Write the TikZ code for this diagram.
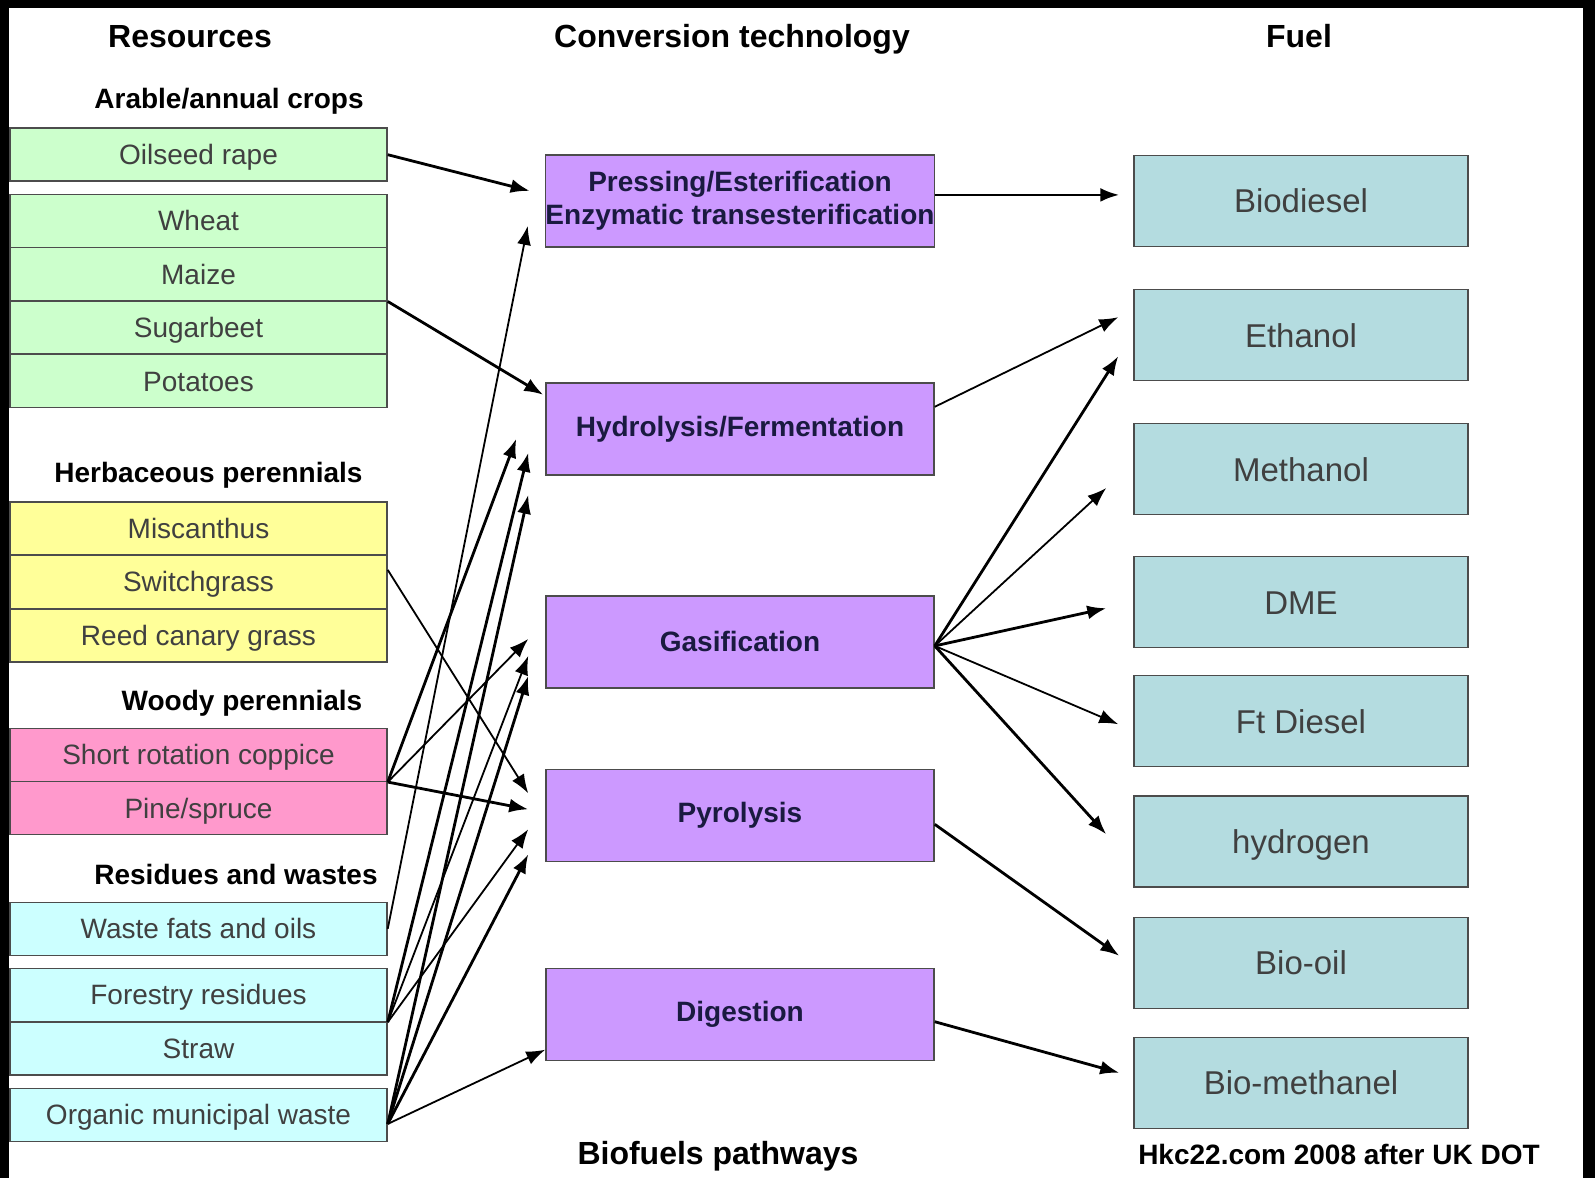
\documentclass[tikz,border=0pt]{standalone}
\usepackage{fontspec}
\setmainfont{Liberation Sans}
\usepackage{tikz}
\usetikzlibrary{arrows.meta,positioning}

\definecolor{cropgreen}{HTML}{CCFFCC}
\definecolor{grassyellow}{HTML}{FFFF99}
\definecolor{woodpink}{HTML}{FF99CC}
\definecolor{wastecyan}{HTML}{CCFFFF}
\definecolor{techviolet}{HTML}{CC99FF}
\definecolor{technavy}{HTML}{1A1A40}
\definecolor{fuelblue}{HTML}{B4DCE0}

\begin{document}
\begin{tikzpicture}[x=1pt, y=-1pt, ->, >={Latex[length=19pt,width=14pt]},
  res/.style={draw=black!70, line width=1.5pt, minimum width=377pt, minimum height=53pt, inner sep=0pt, text=black!75, text height=21pt, text depth=1pt, font=\fontsize{28}{32}\selectfont},
  crop/.style={res, fill=cropgreen},
  grass/.style={res, fill=grassyellow},
  wood/.style={res, fill=woodpink},
  waste/.style={res, fill=wastecyan},
  tech/.style={draw=black!70, fill=techviolet, line width=1.5pt, minimum width=388pt, minimum height=92pt, inner sep=0pt, align=center, text=technavy, font=\bfseries\fontsize{28}{33}\selectfont},
  fuel/.style={draw=black!70, fill=fuelblue, line width=1.5pt, minimum width=334pt, minimum height=91pt, inner sep=0pt, text=black!75, text height=26pt, text depth=2pt, font=\fontsize{33}{36}\selectfont},
  head/.style={text height=24pt, text depth=2pt, font=\bfseries\fontsize{32}{36}\selectfont},
  group/.style={text height=21pt, text depth=2pt, font=\bfseries\fontsize{28}{32}\selectfont},
  thick arrow/.style={line width=2.8pt},
  thin arrow/.style={line width=1.8pt}]
\fill[-, black] (0,0) rectangle (1595,1178);
\fill[-, white] (9,8) rectangle (1583,1178);
\path[use as bounding box] (0,0) rectangle (1595,1178);

\node[head] (reshead) at (190,36) {Resources};
\node[head] (techhead) at (732,36) {Conversion technology};
\node[head] (fuelhead) at (1299,36) {Fuel};

\node[group] (arable) at (229,99) {Arable/annual crops};
\node[crop] (oil) at (198.5,154.7) {Oilseed rape};
\node[crop] (wheat) at (198.5,220.8) {Wheat};
\node[crop] (maize) at (198.5,274.2) {Maize};
\node[crop] (beet) at (198.5,327.6) {Sugarbeet};
\node[crop] (pot) at (198.5,381) {Potatoes};

\node[group] (herb) at (208.5,473) {Herbaceous perennials};
\node[grass] (misc) at (198.5,528.5) {Miscanthus};
\node[grass] (switch) at (198.5,581.9) {Switchgrass};
\node[grass] (reed) at (198.5,635.3) {Reed canary grass};

\node[group] (woody) at (242,701) {Woody perennials};
\node[wood] (src) at (198.5,754.8) {Short rotation coppice};
\node[wood] (pine) at (198.5,808.2) {Pine/spruce};

\node[group] (resid) at (236,875) {Residues and wastes};
\node[waste] (fats) at (198.5,928.8) {Waste fats and oils};
\node[waste] (forest) at (198.5,994.9) {Forestry residues};
\node[waste] (straw) at (198.5,1048.3) {Straw};
\node[waste] (omw) at (198.5,1114.9) {Organic municipal waste};

\node[tech] (press) at (740,200.9) {Pressing/Esterification\\Enzymatic transesterification};
\node[tech] (hydro) at (740,428.8) {Hydrolysis/Fermentation};
\node[tech] (gasif) at (740,641.9) {Gasification};
\node[tech] (pyro) at (740,815.3) {Pyrolysis};
\node[tech] (digest) at (740,1014.7) {Digestion};

\node[fuel] (biod) at (1301,200.9) {Biodiesel};
\node[fuel] (eth) at (1301,335.2) {Ethanol};
\node[fuel] (meth) at (1301,469) {Methanol};
\node[fuel] (dme) at (1301,602.2) {DME};
\node[fuel] (ftd) at (1301,721.2) {Ft Diesel};
\node[fuel] (hyd) at (1301,841.3) {hydrogen};
\node[fuel] (biooil) at (1301,962.8) {Bio-oil};
\node[fuel] (biometh) at (1301,1082.8) {Bio-methanel};

\node[head] (title) at (718,1153.5) {Biofuels pathways};
\node[group] (credit) at (1339,1154.5) {Hkc22.com 2008 after UK DOT};

\path (oil.east) edge[thick arrow] ([shift={(-15,-10)}]press.west);
\path (fats.east) edge[thin arrow] ([shift={(-17,25)}]press.west);
\path (maize.south east) edge[thick arrow] ([shift={(-2,-34)}]hydro.west);
\path (src.south east) edge[thick arrow] ([shift={(-29,10)}]hydro.west);
\path (forest.south east) edge[thick arrow] ([shift={(-17,24)}]hydro.west);
\path ([shift={(0,9)}]omw.east) edge[thick arrow] ([shift={(-17,66)}]hydro.west);
\path (src.south east) edge[thin arrow] ([shift={(-17,-3)}]gasif.west);
\path (forest.south east) edge[thin arrow] ([shift={(-17,14)}]gasif.west);
\path ([shift={(0,9)}]omw.east) edge[thick arrow] ([shift={(-17,34)}]gasif.west);
\path ([shift={(0,-12)}]switch.east) edge[thin arrow] ([shift={(-17,-22)}]pyro.west);
\path (src.south east) edge[thick arrow] ([shift={(-17,-6)}]pyro.west);
\path (forest.south east) edge[thin arrow] ([shift={(-17,14)}]pyro.west);
\path ([shift={(0,9)}]omw.east) edge[thick arrow] ([shift={(-17,39)}]pyro.west);
\path ([shift={(0,9)}]omw.east) edge[thin arrow] ([shift={(0,35)}]digest.west);

\path ([shift={(0,-6)}]press.east) edge[thick arrow] ([shift={(-14,-6)}]biod.west);
\path ([shift={(0,-22)}]hydro.east) edge[thin arrow] ([shift={(-15,-18)}]eth.west);
\path ([shift={(0,4)}]gasif.east) edge[thick arrow] ([shift={(-15,21)}]eth.west);
\path ([shift={(0,4)}]gasif.east) edge[thin arrow] ([shift={(-27,19)}]meth.west);
\path ([shift={(0,4)}]gasif.east) edge[thick arrow] ([shift={(-27,6)}]dme.west);
\path ([shift={(0,4)}]gasif.east) edge[thin arrow] ([shift={(-15,3)}]ftd.west);
\path ([shift={(0,4)}]gasif.east) edge[thick arrow] ([shift={(-27,-7)}]hyd.west);
\path ([shift={(0,9)}]pyro.east) edge[thick arrow] ([shift={(-14,-7)}]biooil.west);
\path ([shift={(0,7)}]digest.east) edge[thick arrow] ([shift={(-14,-10)}]biometh.west);
\end{tikzpicture}
\end{document}
